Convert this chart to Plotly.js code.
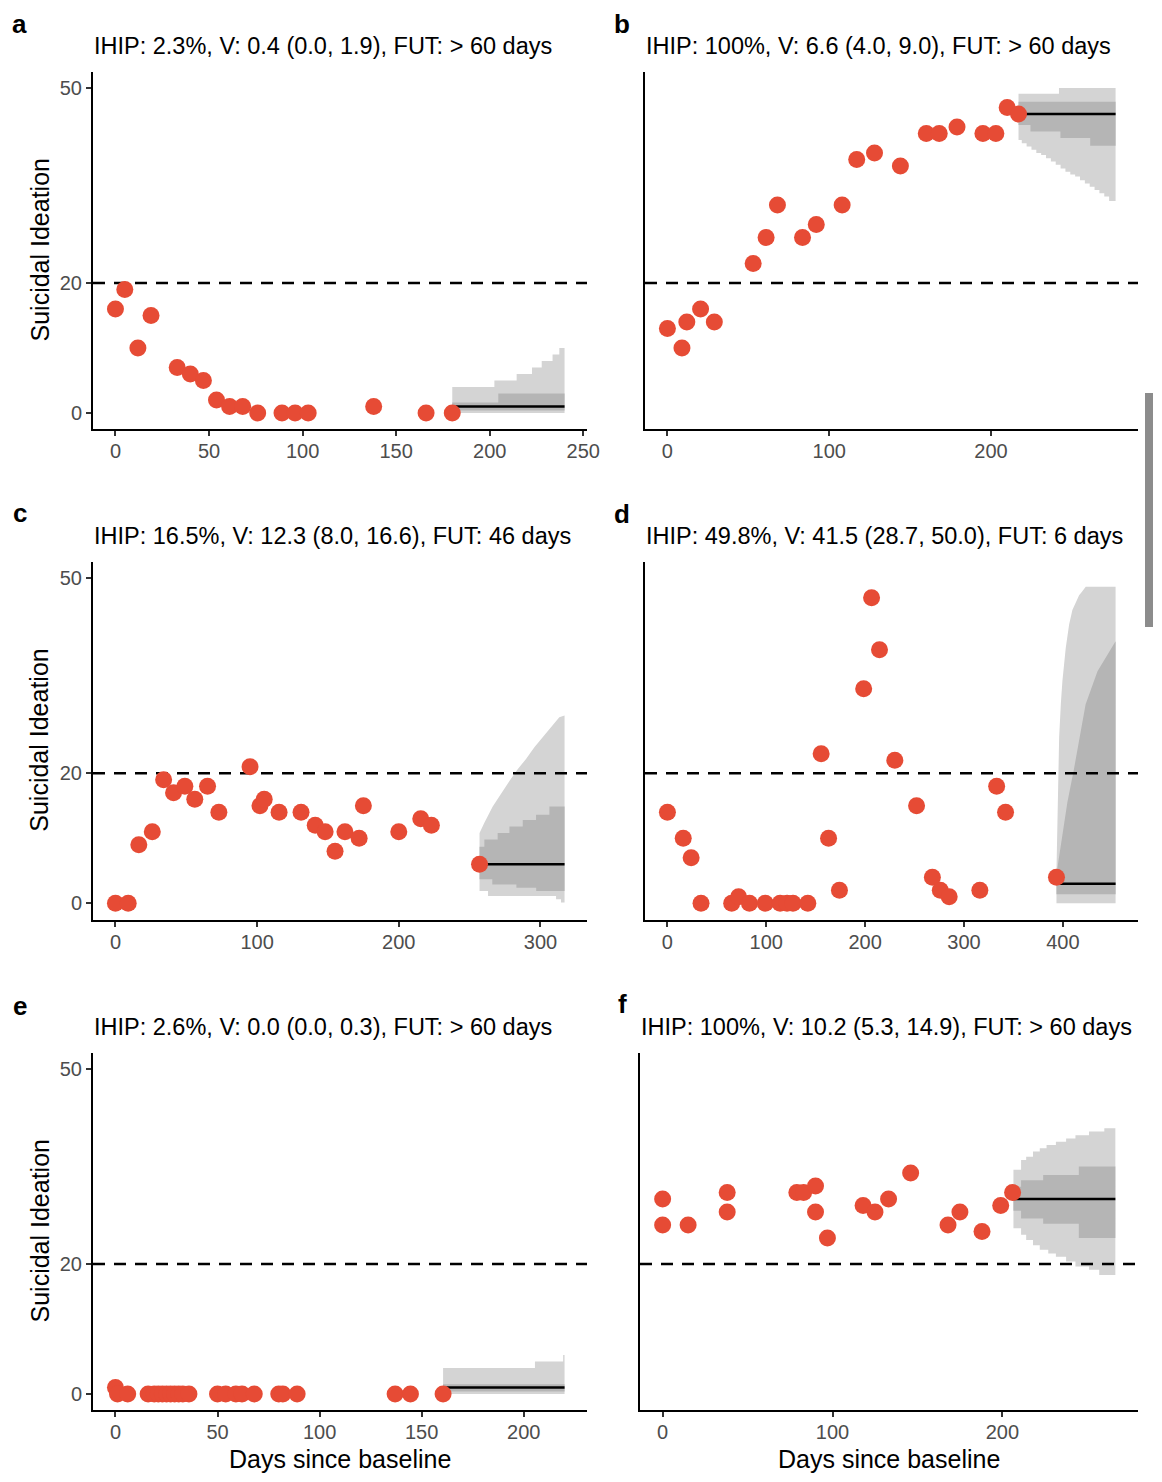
<!DOCTYPE html>
<html>
<head>
<meta charset="utf-8">
<script src="https://cdn.plot.ly/plotly-3.0.1.min.js"></script>
<style>
  html, body { margin: 0; padding: 0; background: #ffffff; }
  #chart { width: 1162px; height: 1482px; }
</style>
</head>
<body>
<div id="chart"></div>
<script>
// ---------------- DATA ----------------
const threshold = 20;
const yTicks = [0, 20, 50];

// Panel a
const aTitle = "IHIP: 2.3%, V: 0.4 (0.0, 1.9), FUT: > 60 days";
const aDays = [0, 5, 12, 19, 33, 40, 47, 54, 61, 68, 76, 89, 96, 103, 138, 166, 180];
const aScores = [16, 19, 10, 15, 7, 6, 5, 2, 1, 1, 0, 0, 0, 0, 1, 0, 0];
const aTicks = [0, 50, 100, 150, 200, 250];
const aOuterUpDays = [180, 202.5, 214.4, 222.6, 227.8, 233.6, 237.2, 240];
const aOuterUp = [4, 5, 6, 7, 8, 9, 10, 10];
const aOuterLoDays = [180, 240];
const aOuterLo = [0, 0];
const aInnerUpDays = [180, 204.6, 240];
const aInnerUp = [1.6, 3, 3];
const aInnerLoDays = [180, 240];
const aInnerLo = [0.4, 0.4];
const aMedianDays = [180, 240];
const aMedian = [1, 1];

// Panel b
const bTitle = "IHIP: 100%, V: 6.6 (4.0, 9.0), FUT: > 60 days";
const bDays = [0, 9, 12, 20.5, 29, 53, 61, 68, 83.5, 92, 108, 117, 128, 144, 160, 168, 179, 195, 203, 210, 217];
const bScores = [13, 10, 14, 16, 14, 23, 27, 32, 27, 29, 32, 39, 40, 38, 43, 43, 44, 43, 43, 47, 46];
const bTicks = [0, 100, 200];
const bOuterUpDays = [217, 242, 277];
const bOuterUp = [49.1, 50, 50];
const bOuterLoDays = [217, 219, 222, 225, 228, 231, 234, 237, 240, 243, 246, 249, 252, 255, 258, 261, 264, 267, 270, 273, 277];
const bOuterLo = [42, 41.5, 41, 40.5, 40, 39.7, 39.2, 38.7, 38.2, 37.6, 37.1, 36.7, 36.4, 35.8, 35.3, 34.8, 34.3, 33.8, 33.3, 32.6, 32];
const bInnerUpDays = [217, 277];
const bInnerUp = [47.9, 47.9];
const bInnerLoDays = [217, 224.4, 242.9, 261.3, 277];
const bInnerLo = [44.3, 43.3, 42.3, 41.1, 41.1];
const bMedianDays = [217, 277];
const bMedian = [46, 46];

// Panel c
const cTitle = "IHIP: 16.5%, V: 12.3 (8.0, 16.6), FUT: 46 days";
const cDays = [0, 9, 16.5, 26, 34, 41, 49, 56, 65, 73, 95, 102, 105, 115.5, 131, 141, 148, 155, 162, 172, 175, 200, 215.5, 223, 257];
const cScores = [0, 0, 9, 11, 19, 17, 18, 16, 18, 14, 21, 15, 16, 14, 14, 12, 11, 8, 11, 10, 15, 11, 13, 12, 6];
const cTicks = [0, 100, 200, 300];
const cOuterUpDays = [257, 260.4, 266.3, 272.2, 278.1, 283.9, 289.8, 295.7, 301.6, 307.5, 313.3, 317];
const cOuterUp = [10.8, 12.4, 14.9, 16.9, 18.8, 20.6, 22.2, 24.0, 25.5, 27.1, 28.6, 28.9];
const cOuterLoDays = [257, 263, 311, 314.5, 317];
const cOuterLo = [1.9, 1.1, 0.6, 0.1, 0.1];
const cInnerUpDays = [257, 260.4, 269.8, 278.1, 287.5, 296.9, 306.3, 317];
const cInnerUp = [8.7, 9.8, 10.8, 11.8, 12.8, 13.6, 14.9, 14.9];
const cInnerLoDays = [257, 266, 283, 297, 317];
const cInnerLo = [3.7, 2.9, 2.4, 1.9, 1.9];
const cMedianDays = [257, 317];
const cMedian = [6, 6];

// Panel d
const dTitle = "IHIP: 49.8%, V: 41.5 (28.7, 50.0), FUT: 6 days";
const dDays = [0, 16, 24, 34, 65, 72, 83, 99, 114, 121, 127, 142, 155.5, 163, 174, 198.5, 206.5, 214.5, 230, 252, 268, 276, 285, 316, 333, 342, 393.5];
const dScores = [14, 10, 7, 0, 0, 1, 0, 0, 0, 0, 0, 0, 23, 10, 2, 33, 47, 39, 22, 15, 4, 2, 1, 2, 18, 14, 4];
const dTicks = [0, 100, 200, 300, 400];
const dOuterUpDays = [393.5, 394.5, 396.2, 397.9, 399.5, 402.9, 406.3, 409.6, 413, 416.4, 418.7, 421.4, 423.1, 453.3];
const dOuterUp = [5, 12.8, 25.5, 30.6, 34.2, 39.3, 42.9, 45.1, 46.4, 47.4, 47.8, 48.4, 48.7, 48.7];
const dOuterLoDays = [393.5, 453.3];
const dOuterLo = [0, 0];
const dInnerUpDays = [393.5, 394.5, 399.5, 404.5, 411, 423, 435, 445, 453.3];
const dInnerUp = [4.5, 5.5, 10.5, 15.5, 20.5, 30.6, 35.7, 38.3, 40.3];
const dInnerLoDays = [393.5, 453.3];
const dInnerLo = [1.4, 1.4];
const dMedianDays = [393.5, 453.3];
const dMedian = [3, 3];

// Panel e
const eTitle = "IHIP: 2.6%, V: 0.0 (0.0, 0.3), FUT: > 60 days";
const eDays = [0, 1, 6, 16, 19, 21, 23, 25, 27, 29, 31, 33, 36, 50, 54, 59, 62, 68, 80, 82, 89, 137, 144.5, 160.5];
const eScores = [1, 0, 0, 0, 0, 0, 0, 0, 0, 0, 0, 0, 0, 0, 0, 0, 0, 0, 0, 0, 0, 0, 0, 0];
const eTicks = [0, 50, 100, 150, 200];
const eOuterUpDays = [160.5, 205.5, 219.3, 220];
const eOuterUp = [4, 5, 6, 6];
const eOuterLoDays = [160.5, 220];
const eOuterLo = [0, 0];
const eInnerUpDays = [160.5, 220];
const eInnerUp = [1.5, 1.5];
const eInnerLoDays = [160.5, 220];
const eInnerLo = [0.4, 0.4];
const eMedianDays = [160.5, 220];
const eMedian = [1, 1];

// Panel f
const fTitle = "IHIP: 100%, V: 10.2 (5.3, 14.9), FUT: > 60 days";
const fDays = [0, 0, 15, 38, 38, 79, 83, 90, 90, 97, 118, 125, 133, 146, 168, 175, 188, 199, 206];
const fScores = [30, 26, 26, 31, 28, 31, 31, 32, 28, 24, 29, 28, 30, 34, 26, 28, 25, 29, 31];
const fTicks = [0, 100, 200];
const fOuterUpDays = [206.5, 211, 214, 218, 222, 226, 231.5, 237.5, 243, 251, 260, 266.5];
const fOuterUp = [34.5, 36, 36.5, 37.3, 37.8, 38.3, 38.8, 39.3, 39.8, 40.4, 40.9, 40.9];
const fOuterLoDays = [206.5, 211, 214, 218, 222, 227, 231.5, 237.5, 243, 251, 257, 266.5];
const fOuterLo = [25.5, 24.5, 23.7, 22.9, 22.2, 21.6, 21.1, 20.4, 19.6, 19.1, 18.3, 18.3];
const fInnerUpDays = [206.5, 211, 224, 245, 266.5];
const fInnerUp = [31.9, 32.9, 33.7, 35, 35];
const fInnerLoDays = [206.5, 211, 224, 245, 266.5];
const fInnerLo = [28.2, 27, 26.2, 24, 24];
const fMedianDays = [206.5, 266.5];
const fMedian = [30, 30];

const yTitle = "Suicidal Ideation";
const xTitle = "Days since baseline";

// ---------------- LAYOUT / STYLE ----------------
const W = 1162, H = 1482;
const FONT = '"Liberation Sans", Arial, Helvetica, sans-serif';
const POINT_COLOR = '#E64B35';
const LIGHT = '#D4D4D4';
const DARK = '#B5B5B5';

const rowTops = [71.75, 562, 1052.75];
const panelH = 357.5;

const panels = [
  {letter:'a', title:aTitle, days:aDays, scores:aScores, ticks:aTicks, left:93, right:587, row:0, col:0,
   oLo:[aOuterLoDays,aOuterLo], oUp:[aOuterUpDays,aOuterUp], iLo:[aInnerLoDays,aInnerLo], iUp:[aInnerUpDays,aInnerUp], med:[aMedianDays,aMedian], oShape:'hv', iShape:'hv',
   letterPos:[20,24]},
  {letter:'b', title:bTitle, days:bDays, scores:bScores, ticks:bTicks, left:645, right:1138, row:0, col:1,
   oLo:[bOuterLoDays,bOuterLo], oUp:[bOuterUpDays,bOuterUp], iLo:[bInnerLoDays,bInnerLo], iUp:[bInnerUpDays,bInnerUp], med:[bMedianDays,bMedian], oShape:'hv', iShape:'hv',
   letterPos:[622,24]},
  {letter:'c', title:cTitle, days:cDays, scores:cScores, ticks:cTicks, left:93, right:587, row:1, col:0,
   oLo:[cOuterLoDays,cOuterLo], oUp:[cOuterUpDays,cOuterUp], iLo:[cInnerLoDays,cInnerLo], iUp:[cInnerUpDays,cInnerUp], med:[cMedianDays,cMedian], oShape:'linear', iShape:'hv',
   letterPos:[20,513]},
  {letter:'d', title:dTitle, days:dDays, scores:dScores, ticks:dTicks, left:645, right:1138, row:1, col:1,
   oLo:[dOuterLoDays,dOuterLo], oUp:[dOuterUpDays,dOuterUp], iLo:[dInnerLoDays,dInnerLo], iUp:[dInnerUpDays,dInnerUp], med:[dMedianDays,dMedian], oShape:'linear', iShape:'linear',
   letterPos:[622,514]},
  {letter:'e', title:eTitle, days:eDays, scores:eScores, ticks:eTicks, left:93, right:587, row:2, col:0,
   oLo:[eOuterLoDays,eOuterLo], oUp:[eOuterUpDays,eOuterUp], iLo:[eInnerLoDays,eInnerLo], iUp:[eInnerUpDays,eInnerUp], med:[eMedianDays,eMedian], oShape:'hv', iShape:'hv',
   letterPos:[20,1006]},
  {letter:'f', title:fTitle, days:fDays, scores:fScores, ticks:fTicks, left:640, right:1138, row:2, col:1,
   oLo:[fOuterLoDays,fOuterLo], oUp:[fOuterUpDays,fOuterUp], iLo:[fInnerLoDays,fInnerLo], iUp:[fInnerUpDays,fInnerUp], med:[fMedianDays,fMedian], oShape:'hv', iShape:'hv',
   letterPos:[622,1004]}
];

const px = v => v / W;
const py = v => 1 - v / H;

const traces = [];
const layout = {
  width: W, height: H,
  margin: {l:0, r:0, t:0, b:0},
  paper_bgcolor: '#ffffff',
  plot_bgcolor: '#ffffff',
  showlegend: false,
  font: {family: FONT, color: '#000000'},
  annotations: [],
  shapes: []
};

panels.forEach((p, i) => {
  const n = i + 1;
  const xa = 'x' + n, ya = 'y' + n;
  const xKey = 'xaxis' + (n === 1 ? '' : n), yKey = 'yaxis' + (n === 1 ? '' : n);
  const top = rowTops[p.row], bottom = top + panelH;
  const xmin = Math.min(...p.days);
  const xmax = Math.max(...p.oUp[0]);
  const pad = 0.05 * (xmax - xmin);
  const xr = [xmin - pad, xmax + pad];

  const base = {xaxis: xa, yaxis: ya, type: 'scatter', hoverinfo: 'skip', showlegend: false};
  // outer band (light)
  traces.push(Object.assign({}, base, {x: p.oLo[0], y: p.oLo[1], mode: 'lines', line: {width: 0, shape: 'hv'}}));
  traces.push(Object.assign({}, base, {x: p.oUp[0], y: p.oUp[1], mode: 'lines', line: {width: 0, shape: p.oShape}, fill: 'tonexty', fillcolor: LIGHT}));
  // inner band (dark)
  traces.push(Object.assign({}, base, {x: p.iLo[0], y: p.iLo[1], mode: 'lines', line: {width: 0, shape: 'hv'}}));
  traces.push(Object.assign({}, base, {x: p.iUp[0], y: p.iUp[1], mode: 'lines', line: {width: 0, shape: p.iShape}, fill: 'tonexty', fillcolor: DARK}));
  // threshold dashed line
  traces.push(Object.assign({}, base, {x: xr, y: [threshold, threshold], mode: 'lines', line: {color: '#000000', width: 2.5, dash: '12px,9px'}}));
  // median
  traces.push(Object.assign({}, base, {x: p.med[0], y: p.med[1], mode: 'lines', line: {color: '#000000', width: 2.6}}));
  // observed points
  traces.push(Object.assign({}, base, {x: p.days, y: p.scores, mode: 'markers', marker: {color: POINT_COLOR, size: 17, line: {width: 0}}}));

  const isLeft = p.col === 0;
  layout[xKey] = {
    domain: [px(p.left), px(p.right)],
    range: xr,
    anchor: ya,
    showgrid: false, zeroline: false,
    showline: true, linecolor: '#000000', linewidth: 2,
    ticks: 'outside', ticklen: 5, tickwidth: 2, tickcolor: '#333333',
    ticklabelstandoff: -2,
    tickmode: 'array', tickvals: p.ticks, ticktext: p.ticks.map(String),
    tickfont: {family: FONT, size: 20, color: '#4D4D4D'},
    fixedrange: true
  };
  layout[yKey] = {
    domain: [py(bottom), py(top)],
    range: [-2.5, 52.5],
    anchor: xa,
    showgrid: false, zeroline: false,
    showline: true, linecolor: '#000000', linewidth: 2,
    ticks: isLeft ? 'outside' : '', ticklen: 5, tickwidth: 2, tickcolor: '#333333',
    tickmode: 'array', tickvals: yTicks, ticktext: yTicks.map(String),
    showticklabels: isLeft,
    tickfont: {family: FONT, size: 20, color: '#4D4D4D'},
    fixedrange: true
  };

  // panel title
  layout.annotations.push({
    xref: 'paper', yref: 'paper', x: px(p.left - 1), y: py(top - 26),
    xanchor: 'left', yanchor: 'middle', showarrow: false,
    text: p.title, font: {family: FONT, size: 23.5, color: '#000000'}
  });
  // panel letter
  layout.annotations.push({
    xref: 'paper', yref: 'paper', x: px(p.letterPos[0]), y: py(p.letterPos[1]),
    xanchor: 'center', yanchor: 'middle', showarrow: false,
    text: '<b>' + p.letter + '</b>', font: {family: FONT, size: 26, color: '#000000'}
  });
  if (isLeft) {
    layout.annotations.push({
      xref: 'paper', yref: 'paper', x: px(39), y: py((top + bottom) / 2),
      xanchor: 'center', yanchor: 'middle', showarrow: false, textangle: -90,
      text: yTitle, font: {family: FONT, size: 25, color: '#000000'}
    });
  }
  if (p.row === 2) {
    layout.annotations.push({
      xref: 'paper', yref: 'paper', x: px((p.left + p.right) / 2), y: py(1459),
      xanchor: 'center', yanchor: 'middle', showarrow: false,
      text: xTitle, font: {family: FONT, size: 25, color: '#000000'}
    });
  }
});

// screenshot scrollbar artefact at the right edge
layout.shapes.push({
  type: 'rect', xref: 'paper', yref: 'paper',
  x0: px(1145), x1: px(1153), y0: py(627), y1: py(393),
  fillcolor: '#8c8c8c', line: {width: 0}, layer: 'above'
});

Plotly.newPlot('chart', traces, layout, {displayModeBar: false, staticPlot: true});
</script>
</body>
</html>
